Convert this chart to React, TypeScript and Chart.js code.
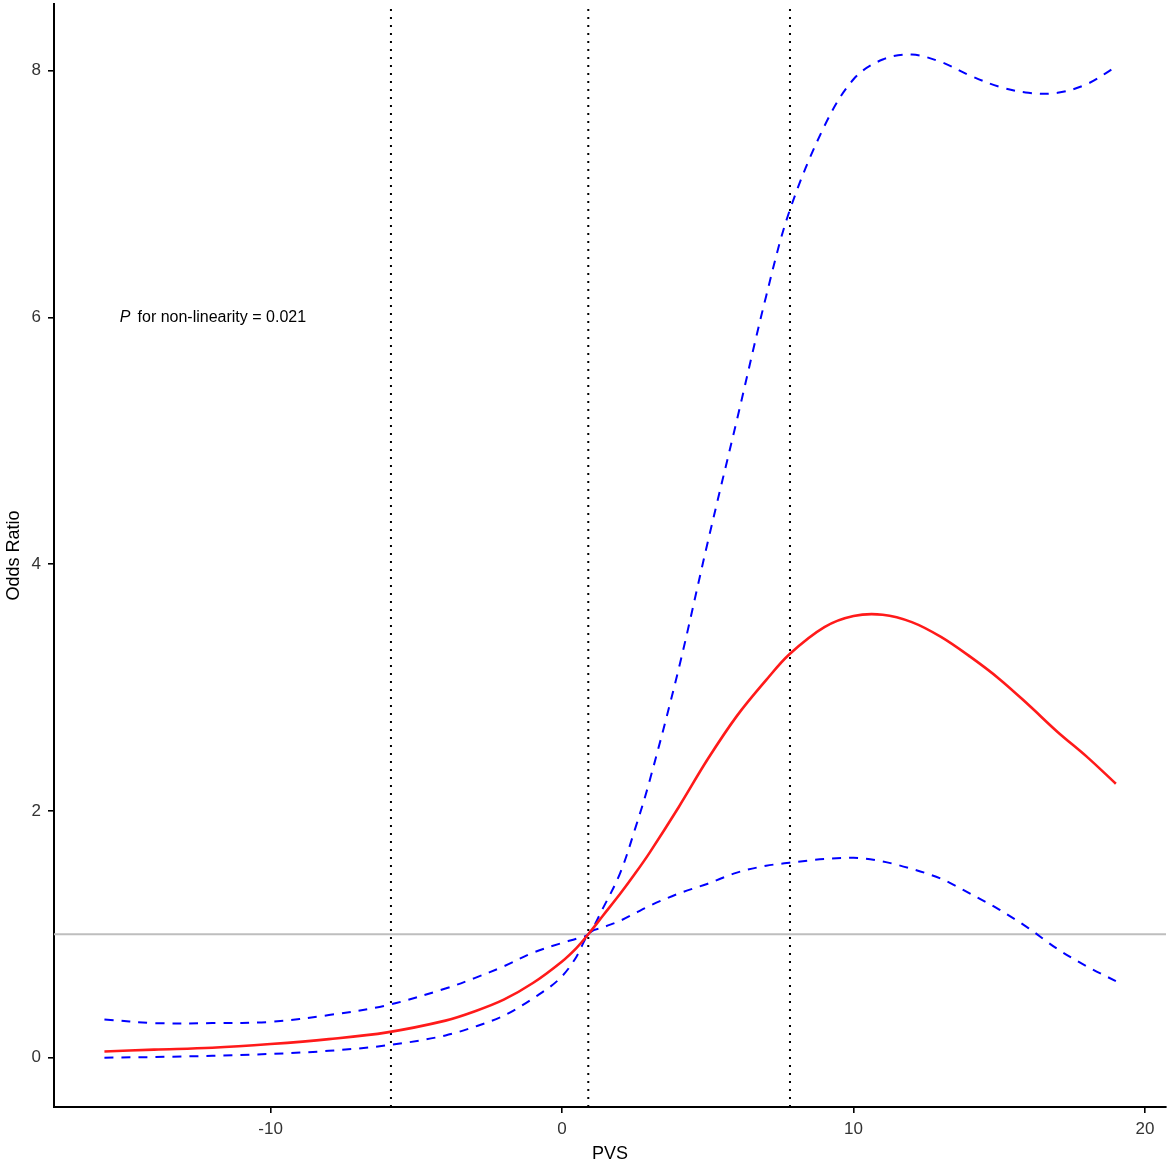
import React, { useEffect, useRef } from "react";
import { Chart, registerables } from "chart.js";

Chart.register(...registerables);

// PVS values (x)
const pvs = [-15.7, -14, -12, -10, -8, -6, -4, -3, -2, -1, 0, 0.5, 0.9, 1.4, 2, 2.5, 3, 4, 5, 6, 7, 7.8, 9, 10, 11, 12, 13, 14, 15, 16, 17, 18, 19];
// Odds ratio estimate
const oddsRatio = [0.05, 0.065, 0.08, 0.11, 0.15, 0.205, 0.3, 0.375, 0.47, 0.605, 0.78, 0.89, 1.0, 1.15, 1.33, 1.49, 1.66, 2.03, 2.42, 2.77, 3.06, 3.27, 3.49, 3.58, 3.59, 3.53, 3.41, 3.25, 3.07, 2.86, 2.64, 2.44, 2.22];
// Lower 95% CI
const lowerCI = [0.0, 0.005, 0.015, 0.03, 0.055, 0.1, 0.18, 0.25, 0.34, 0.48, 0.66, 0.82, 1.0, 1.055, 1.11, 1.17, 1.23, 1.33, 1.41, 1.5, 1.555, 1.58, 1.61, 1.62, 1.59, 1.53, 1.45, 1.33, 1.2, 1.05, 0.88, 0.74, 0.62];
// Upper 95% CI
const upperCI = [0.31, 0.28, 0.28, 0.29, 0.345, 0.425, 0.56, 0.645, 0.74, 0.85, 0.93, 0.965, 1.0, 1.21, 1.5, 1.85, 2.24, 3.15, 4.18, 5.17, 6.17, 6.86, 7.55, 7.93, 8.09, 8.13, 8.07, 7.96, 7.87, 7.82, 7.82, 7.89, 8.03];

// Knot positions (vertical dotted lines)
const knots = [-5.87, 0.9, 7.82];
// Reference OR line
const referenceOR = 1;

const xTicks = [-10, 0, 10, 20];
const yTicks = [0, 2, 4, 6, 8];

const xMin = -17.43;
const xMax = 20.72;
const yMin = -0.4;
const yMax = 8.54;

const annotationText = "for non-linearity = 0.021";
const annotationItalic = "P";
const annotationX = -15.17;
const annotationY = 6;

const FONT = "'Liberation Sans', Arial, Helvetica, sans-serif";

export default function App() {
  const canvasRef = useRef<HTMLCanvasElement | null>(null);

  useEffect(() => {
    document.body.style.margin = "0";
    const canvas = canvasRef.current;
    if (!canvas) return;

    const toPts = (ys: number[]) => pvs.map((x, i) => ({ x, y: ys[i] }));

    const knotSets = knots.map((k) => ({
      label: "knot",
      data: [
        { x: k, y: yMin },
        { x: k, y: yMax },
      ],
      borderColor: "#000000",
      borderWidth: 2,
      borderDash: [2, 6],
      pointRadius: 0,
      fill: false,
      tension: 0,
    }));

    const annotationPlugin = {
      id: "pAnnotation",
      afterDatasetsDraw(chart: any) {
        const { ctx, scales } = chart;
        const px = scales.x.getPixelForValue(annotationX);
        const py = scales.y.getPixelForValue(annotationY);
        ctx.save();
        ctx.fillStyle = "#000000";
        ctx.textBaseline = "middle";
        ctx.textAlign = "left";
        ctx.font = `italic 16px ${FONT}`;
        ctx.fillText(annotationItalic, px, py);
        const w = ctx.measureText(annotationItalic).width;
        ctx.font = `16px ${FONT}`;
        ctx.fillText(annotationText, px + w + 7, py);
        ctx.restore();
      },
    };

    const chart = new Chart(canvas, {
      type: "line",
      data: {
        datasets: [
          {
            label: "OR",
            data: toPts(oddsRatio),
            borderColor: "#FF1A1A",
            borderWidth: 2.6,
            pointRadius: 0,
            fill: false,
            tension: 0.35,
          },
          {
            label: "Lower",
            data: toPts(lowerCI),
            borderColor: "#0000FF",
            borderWidth: 2,
            borderDash: [9, 8],
            pointRadius: 0,
            fill: false,
            cubicInterpolationMode: "monotone",
          },
          {
            label: "Upper",
            data: toPts(upperCI),
            borderColor: "#0000FF",
            borderWidth: 2,
            borderDash: [9, 8],
            pointRadius: 0,
            fill: false,
            tension: 0.35,
          },
          ...knotSets,
          {
            label: "ref",
            data: [
              { x: xMin, y: referenceOR },
              { x: xMax, y: referenceOR },
            ],
            borderColor: "#BEBEBE",
            borderWidth: 2,
            pointRadius: 0,
            fill: false,
          },
        ] as any,
      },
      options: {
        animation: false,
        responsive: true,
        maintainAspectRatio: false,
        layout: { padding: { left: 0, right: 4, top: 4, bottom: 0 } },
        plugins: {
          legend: { display: false },
          tooltip: { enabled: false },
        },
        scales: {
          x: {
            type: "linear",
            min: xMin,
            max: xMax,
            afterBuildTicks: (scale: any) => {
              scale.ticks = xTicks.map((v) => ({ value: v }));
            },
            afterFit: (scale: any) => {
              scale.height = 60;
              scale.paddingLeft = 0;
              scale.paddingRight = 0;
            },
            grid: {
              drawOnChartArea: false,
              drawTicks: true,
              tickLength: 6,
              color: "#000000",
              lineWidth: 1.6,
            },
            border: { display: true, color: "#000000", width: 2 },
            ticks: {
              color: "#333333",
              font: { family: FONT, size: 17 },
              padding: 6,
              maxRotation: 0,
            },
            title: {
              display: true,
              text: "PVS",
              color: "#000000",
              font: { family: FONT, size: 18 },
              padding: { top: 0, bottom: 2 },
            },
          },
          y: {
            type: "linear",
            min: yMin,
            max: yMax,
            afterBuildTicks: (scale: any) => {
              scale.ticks = yTicks.map((v) => ({ value: v }));
            },
            afterFit: (scale: any) => {
              scale.width = 54;
              scale.paddingTop = 0;
              scale.paddingBottom = 0;
            },
            grid: {
              drawOnChartArea: false,
              drawTicks: true,
              tickLength: 6,
              color: "#000000",
              lineWidth: 1.6,
            },
            border: { display: true, color: "#000000", width: 2 },
            ticks: {
              color: "#333333",
              font: { family: FONT, size: 17 },
              padding: 7,
            },
            title: {
              display: true,
              text: "Odds Ratio",
              color: "#000000",
              font: { family: FONT, size: 18 },
              padding: { top: 3, bottom: 0 },
            },
          },
        },
      },
      plugins: [annotationPlugin],
    });

    return () => {
      chart.destroy();
    };
  }, []);

  return (
    <div style={{ position: "relative", width: "1170px", height: "1167px" }}>
      <canvas ref={canvasRef} />
    </div>
  );
}
